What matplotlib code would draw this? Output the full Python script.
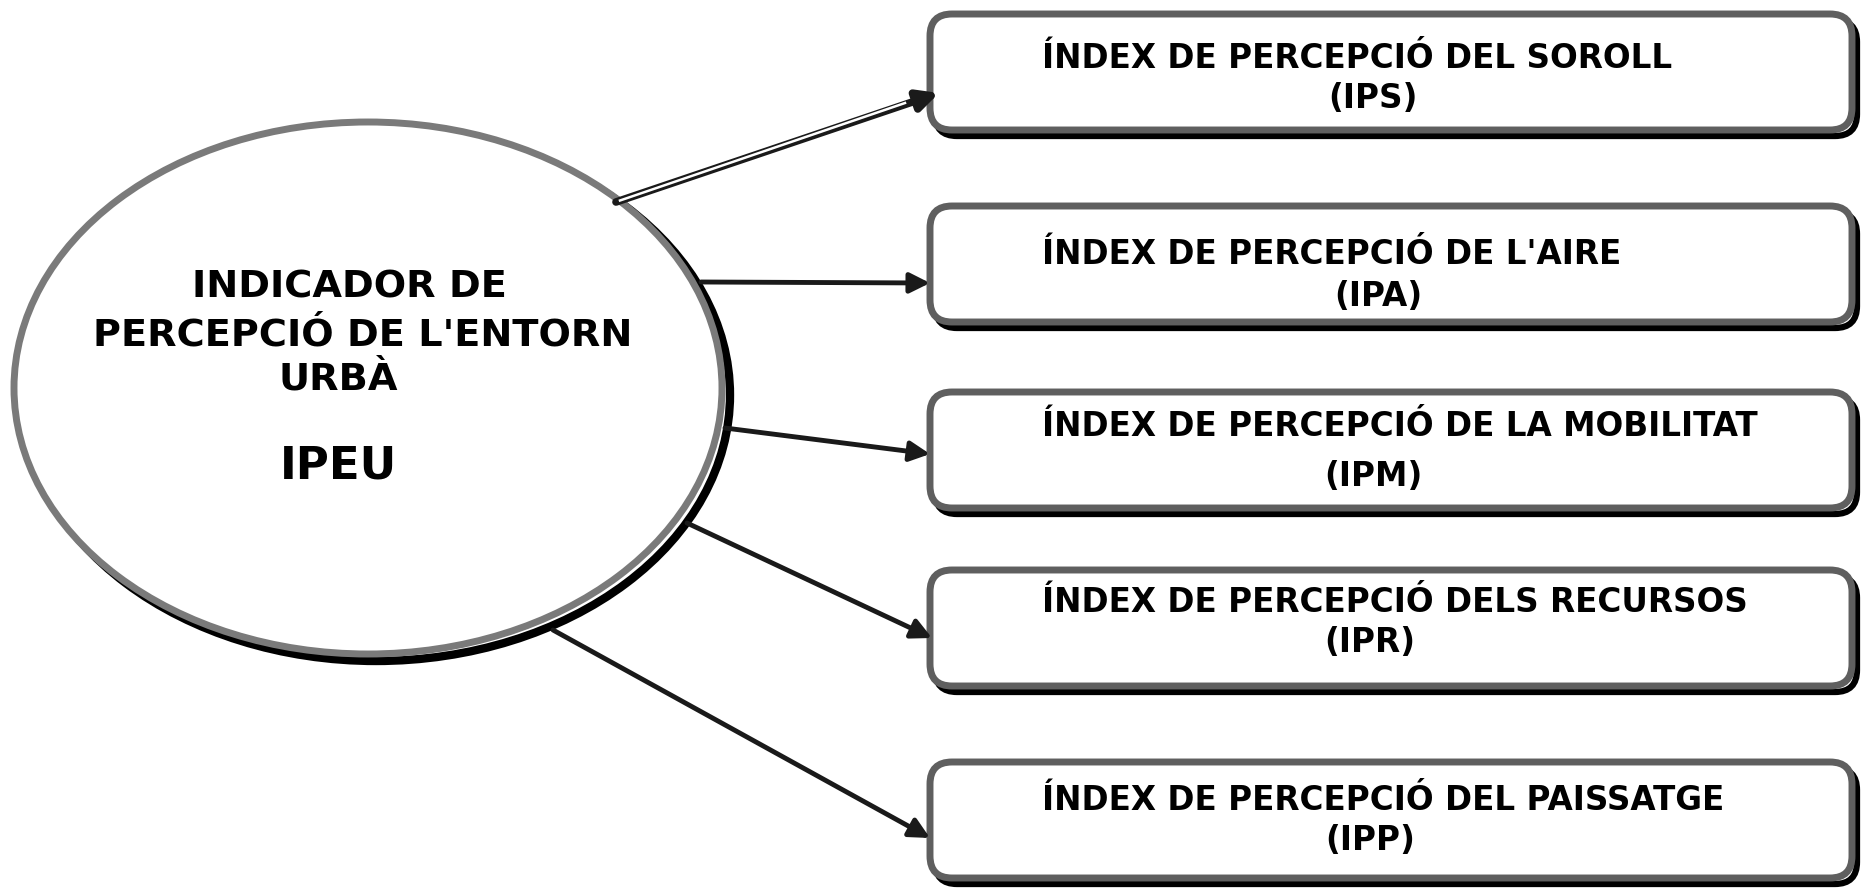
import matplotlib
matplotlib.use('Agg')
import matplotlib.pyplot as plt
from matplotlib.patches import Ellipse, FancyBboxPatch

# textos del diagrama
titol_centre = ['INDICADOR DE', "PERCEPCIÓ DE L'ENTORN", 'URBÀ']
sigla_centre = 'IPEU'
index_noms = ['ÍNDEX DE PERCEPCIÓ DEL SOROLL',
              "ÍNDEX DE PERCEPCIÓ DE L'AIRE",
              'ÍNDEX DE PERCEPCIÓ DE LA MOBILITAT',
              'ÍNDEX DE PERCEPCIÓ DELS RECURSOS',
              'ÍNDEX DE PERCEPCIÓ DEL PAISSATGE']
index_sigles = ['(IPS)', '(IPA)', '(IPM)', '(IPR)', '(IPP)']

# disposicio (pixels)
caixa_top = [14, 206, 392, 570, 762]
caixa_h = 116
caixa_x0, caixa_x1 = 930, 1852
text1_y = [58, 254, 426, 603, 800]
text2_y = [98, 296, 477, 642, 840]
text2_x = [1373, 1378, 1373, 1370, 1370]
fletxa_ini = [(616, 202), (701, 282), (725, 428), (687, 523), (553, 630)]
fletxa_fi = [(939, 93), (930, 283), (930, 454), (932, 638), (930, 838)]

fig = plt.figure(figsize=(18.65, 8.9), dpi=100)
ax = fig.add_axes([0, 0, 1, 1])
ax.set_xlim(0, 1865)
ax.set_ylim(890, 0)
ax.axis('off')

#el.lipse central amb ombra
cx, cy, w, h = 368, 388, 708, 532
ax.add_patch(Ellipse((cx + 8, cy + 7), w, h, facecolor='none', edgecolor='black', lw=6, zorder=1))
ax.add_patch(Ellipse((cx, cy), w, h, facecolor='white', edgecolor='#7a7a7a', lw=5, zorder=2))

ax.text(349, 288, titol_centre[0], ha='center', va='center', fontsize=27.5, fontweight='bold', zorder=5)
ax.text(363, 335, titol_centre[1], ha='center', va='center', fontsize=27.5, fontweight='bold', zorder=5)
ax.text(338, 380, titol_centre[2], ha='center', va='center', fontsize=27.5, fontweight='bold', zorder=5)
ax.text(338, 466, sigla_centre, ha='center', va='center', fontsize=32.5, fontweight='bold', zorder=5)

#caixes amb ombra
for i in range(len(index_noms)):
  y0 = caixa_top[i]
  ax.add_patch(FancyBboxPatch((caixa_x0 + 5, y0 + 6), caixa_x1 - caixa_x0, caixa_h,
                              boxstyle='round,pad=0,rounding_size=22',
                              facecolor='none', edgecolor='black', lw=4.5, zorder=1))
  ax.add_patch(FancyBboxPatch((caixa_x0, y0), caixa_x1 - caixa_x0, caixa_h,
                              boxstyle='round,pad=0,rounding_size=22',
                              facecolor='white', edgecolor='#5f5f5f', lw=5, zorder=2))
  ax.text(1042, text1_y[i], index_noms[i], ha='left', va='center', fontsize=23.5, fontweight='bold', zorder=5)
  ax.text(text2_x[i], text2_y[i], index_sigles[i], ha='center', va='center', fontsize=23.5, fontweight='bold', zorder=5)

#fletxes
for i in range(len(fletxa_ini)):
  gruix = 5.5 if i == 0 else 3.5
  ax.annotate('', xy=fletxa_fi[i], xytext=fletxa_ini[i],
              arrowprops=dict(arrowstyle='-|>', lw=gruix, color='#1a1a1a',
                              mutation_scale=30, shrinkA=0, shrinkB=0), zorder=4)
# la primera fletxa es de doble linia
x0, y0 = fletxa_ini[0]
x1, y1 = fletxa_fi[0]
ax.plot([x0 + 4, x1 - 34], [y0 - 1.5, y1 + 10], color='white', lw=1.8, zorder=4.5)

fig.savefig('out.png', dpi=100)
